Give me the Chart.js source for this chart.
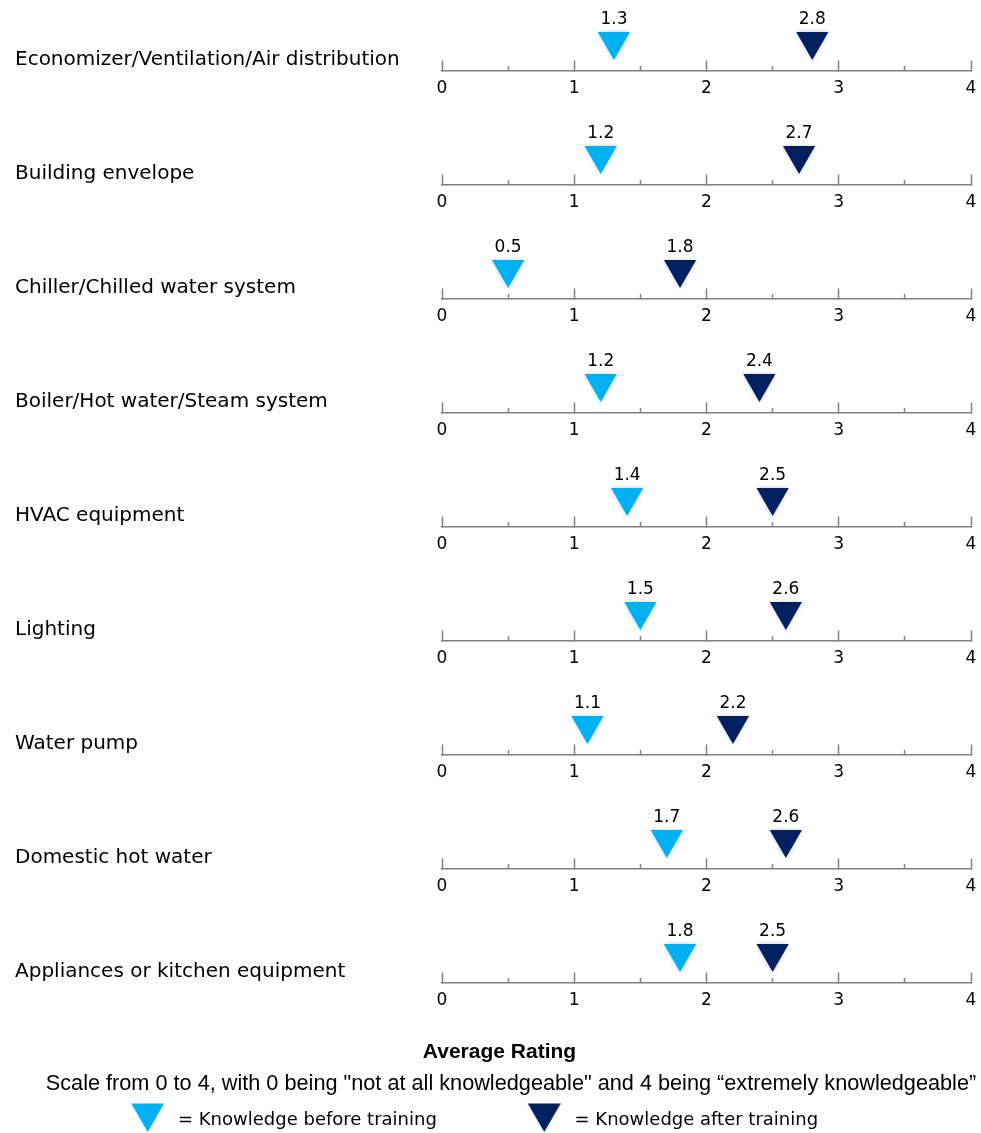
<!DOCTYPE html>
<html>
<head>
<meta charset="utf-8">
<title>Average Rating</title>
<script src="https://cdn.jsdelivr.net/npm/chart.js@4.4.1/dist/chart.umd.min.js"></script>
<style>
  html, body { margin: 0; padding: 0; background: #ffffff; }
  #wrap { width: 981px; height: 1133px; }
</style>
</head>
<body>
<div id="wrap"><canvas id="chart" width="981" height="1133"></canvas></div>
<script>
// ---- data ----
const categories = [
  'Economizer/Ventilation/Air distribution',
  'Building envelope',
  'Chiller/Chilled water system',
  'Boiler/Hot water/Steam system',
  'HVAC equipment',
  'Lighting',
  'Water pump',
  'Domestic hot water',
  'Appliances or kitchen equipment'
];
const beforeTraining = [1.3, 1.2, 0.5, 1.2, 1.4, 1.5, 1.1, 1.7, 1.8];
const afterTraining  = [2.8, 2.7, 1.8, 2.4, 2.5, 2.6, 2.2, 2.6, 2.5];
const ratingTicks = [0, 1, 2, 3, 4];
const halfTicks = [0.5, 1.5, 2.5, 3.5];
const seriesNames = ['= Knowledge before training', '= Knowledge after training'];
const axisTitle = 'Average Rating';
const scaleNote = 'Scale from 0 to 4, with 0 being "not at all knowledgeable" and 4 being \u201cextremely knowledgeable\u201d';

// ---- look ----
const seriesColors = ['#00B0F0', '#002060'];
const AXIS_GRAY = '#808080';
const FONT = "'DejaVu Sans', sans-serif";
const BOTTOM_FONT = "'Liberation Sans', Arial, sans-serif";
const ROW_GAP = 114;        // pixels between two number lines
const FIRST_LINE = 70.7;    // pixels from the top to the first number line
const MARKER_LIFT = 0.257;  // marker centre above its line (rows)
const LABEL_LIFT = 0.1;     // row caption above its line (rows)
const MARKER_RADIUS = 18.6;

Chart.defaults.font.family = FONT;

// legend swatch: downward triangle placed at the right end of a wide legend box
function swatch(color) {
  const c = document.createElement('canvas');
  c.width = 109; c.height = 34;
  const g = c.getContext('2d');
  g.fillStyle = color;
  g.beginPath();
  g.moveTo(76, 0.5);
  g.lineTo(109, 0.5);
  g.lineTo(92.5, 29.1);
  g.closePath();
  g.fill();
  return c;
}
const swatches = seriesColors.map(swatch);

const zeroPadding = (s) => { s.paddingLeft = 0; s.paddingRight = 0; s.paddingTop = 0; s.paddingBottom = 0; };

// one number line per category, placed on the row's y value
const scales = {
  y: {
    type: 'linear',
    position: 'left',
    reverse: true,
    grid: { display: false },
    border: { display: false },
    ticks: {
      autoSkip: false,
      crossAlign: 'far',
      color: '#000',
      font: { family: FONT, size: 20 },
      callback: (v, i) => categories[i]
    },
    afterBuildTicks(scale) {
      scale.min = -FIRST_LINE / ROW_GAP;
      scale.max = scale.min + scale.height / ROW_GAP;
      scale.ticks = categories.map((c, i) => ({ value: i - LABEL_LIFT }));
    },
    afterFit(scale) {
      scale.width = 427;
      scale.paddingTop = 0;
      scale.paddingBottom = 0;
    }
  }
};

categories.forEach((c, i) => {
  scales['x' + i] = {
    type: 'linear',
    axis: 'x',
    position: { y: i },
    min: 0,
    max: 4,
    afterBuildTicks: (s) => { s.ticks = ratingTicks.map(v => ({ value: v })); },
    grid: { display: true, drawOnChartArea: false, drawTicks: true, tickLength: -11, tickColor: AXIS_GRAY, tickWidth: 1.5 },
    border: { display: true, color: AXIS_GRAY, width: 1.5 },
    ticks: { color: '#000', font: { family: FONT, size: 17 }, padding: 19, maxRotation: 0, autoSkip: false },
    afterFit: zeroPadding
  };
  scales['h' + i] = {
    type: 'linear',
    axis: 'x',
    position: { y: i },
    min: 0,
    max: 4,
    afterBuildTicks: (s) => { s.ticks = halfTicks.map(v => ({ value: v })); },
    grid: { display: true, drawOnChartArea: false, drawTicks: true, tickLength: -5, tickColor: AXIS_GRAY, tickWidth: 1.5 },
    border: { display: false },
    ticks: { display: false },
    afterFit: zeroPadding
  };
});

function markerSet(values, color, name) {
  return {
    label: name,
    data: values.map((v, i) => ({ x: v, y: i - MARKER_LIFT })),
    xAxisID: 'x0',
    yAxisID: 'y',
    showLine: false,
    clip: false,
    pointStyle: 'triangle',
    pointRotation: 180,
    pointRadius: MARKER_RADIUS,
    pointHoverRadius: MARKER_RADIUS,
    pointBackgroundColor: color,
    pointBorderWidth: 0
  };
}

// soft halo round the markers, then the value above each one
const valueLabels = {
  id: 'valueLabels',
  beforeDatasetsDraw(chart) {
    const ctx = chart.ctx;
    ctx.save();
    ctx.shadowColor = 'rgba(0,0,0,0.22)';
    ctx.shadowBlur = 4;
  },
  afterDatasetsDraw(chart) {
    const ctx = chart.ctx;
    ctx.restore();
    ctx.save();
    ctx.font = '17px ' + FONT;
    ctx.fillStyle = '#000';
    ctx.textAlign = 'center';
    ctx.textBaseline = 'middle';
    chart.data.datasets.forEach((ds, di) => {
      chart.getDatasetMeta(di).data.forEach((pt, j) => {
        ctx.fillText(ds.data[j].x.toFixed(1), pt.x, pt.y - 21.7);
      });
    });
    ctx.restore();
  }
};

// small horizontal/vertical offsets for the caption blocks under the plot
const bottomNudge = {
  id: 'bottomNudge',
  afterLayout(chart) {
    const shift = (box, dx, dy) => {
      if (!box) return;
      box.left += dx; box.right += dx;
      box.top += dy; box.bottom += dy;
    };
    shift(chart.legend, 25.3, 6);
    shift(chart.titleBlock, 6.5, 0);
    shift(chart.boxes.find(b => b !== chart.titleBlock && b.options && b.options.text === scaleNote), 18, 0);
  }
};

new Chart(document.getElementById('chart'), {
  type: 'scatter',
  data: {
    datasets: [
      markerSet(beforeTraining, seriesColors[0], seriesNames[0]),
      markerSet(afterTraining, seriesColors[1], seriesNames[1])
    ]
  },
  options: {
    responsive: false,
    animation: false,
    devicePixelRatio: 1,
    events: [],
    layout: { autoPadding: false, padding: { top: 0, left: 15, right: 10, bottom: 0 } },
    scales: scales,
    plugins: {
      tooltip: { enabled: false },
      legend: {
        position: 'bottom',
        align: 'start',
        weight: 3,
        labels: {
          usePointStyle: true,
          pointStyleWidth: 118.7,
          padding: 10,
          color: '#000',
          font: { family: FONT, size: 18 },
          generateLabels: () => seriesNames.map((t, i) => ({
            text: t,
            fillStyle: seriesColors[i],
            strokeStyle: seriesColors[i],
            lineWidth: 0,
            pointStyle: swatches[i],
            rotation: 0,
            hidden: false,
            datasetIndex: i
          }))
        }
      },
      title: {
        display: true,
        text: axisTitle,
        position: 'bottom',
        weight: 1,
        color: '#000',
        font: { family: BOTTOM_FONT, size: 21, weight: 'bold', lineHeight: 1.2 },
        padding: { top: 0, bottom: 8 }
      },
      subtitle: {
        display: true,
        text: scaleNote,
        position: 'bottom',
        weight: 2,
        color: '#000',
        font: { family: BOTTOM_FONT, size: 21.7, lineHeight: 1 },
        padding: { top: 0, bottom: 0 }
      }
    }
  },
  plugins: [valueLabels, bottomNudge]
});
</script>
</body>
</html>
